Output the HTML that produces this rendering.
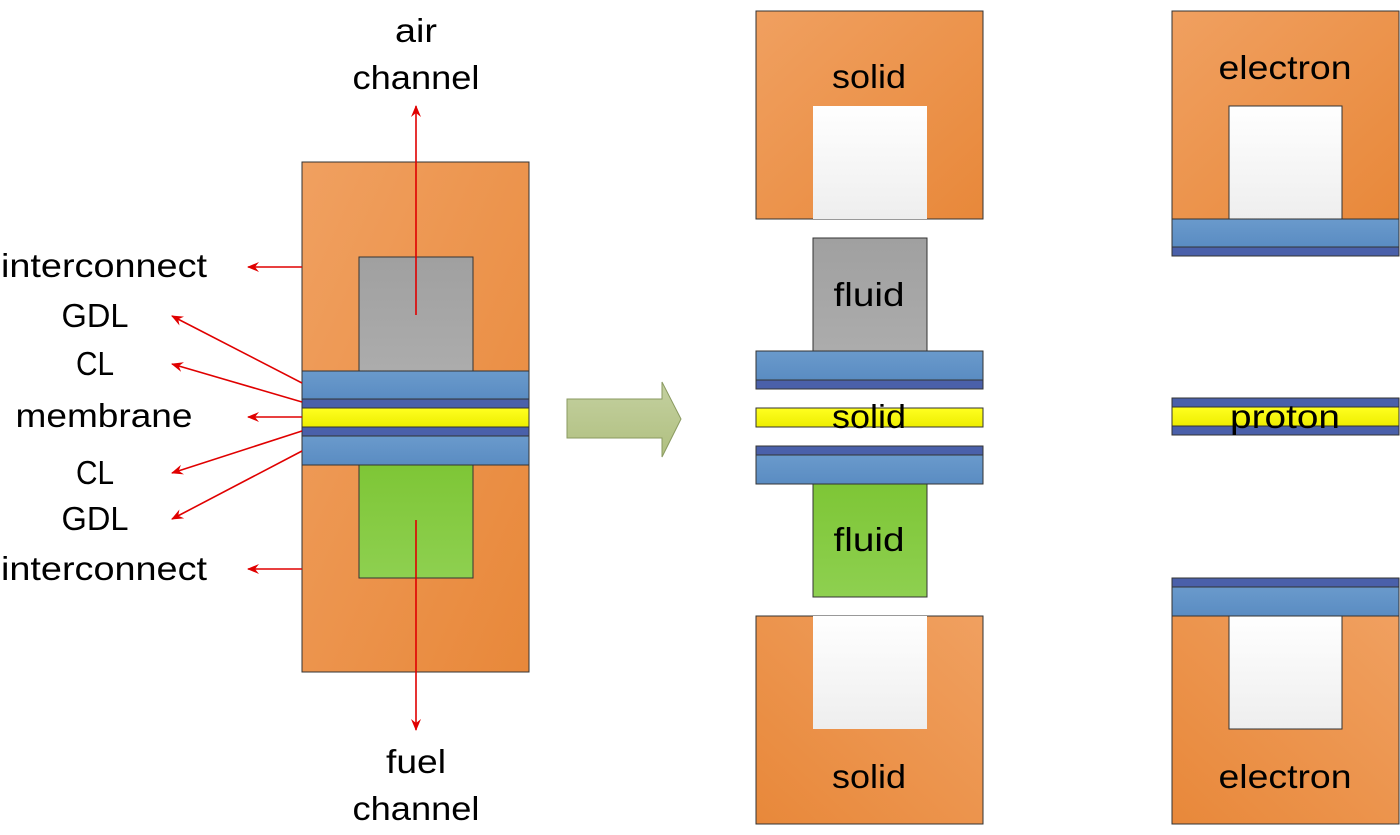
<!DOCTYPE html>
<html><head><meta charset="utf-8"><style>
html,body{margin:0;padding:0;background:#fff;}
body{width:1400px;height:835px;position:relative;overflow:hidden;font-family:"Liberation Sans",sans-serif;}
</style></head><body>
<svg width="1400" height="835" viewBox="0 0 1400 835" xmlns="http://www.w3.org/2000/svg" style="position:absolute;left:0;top:0">
<defs>
<linearGradient id="or" x1="0" y1="0" x2="1" y2="1"><stop offset="0" stop-color="#F0A060"/><stop offset="1" stop-color="#E8883A"/></linearGradient>
<linearGradient id="or2" x1="0" y1="1" x2="1" y2="0"><stop offset="0" stop-color="#E8883A"/><stop offset="1" stop-color="#F0A060"/></linearGradient>
<linearGradient id="gr" x1="0" y1="0" x2="0" y2="1"><stop offset="0" stop-color="#A0A0A0"/><stop offset="1" stop-color="#ACACAC"/></linearGradient>
<linearGradient id="gn" x1="0" y1="0" x2="0" y2="1"><stop offset="0" stop-color="#7EC636"/><stop offset="1" stop-color="#8ED050"/></linearGradient>
<linearGradient id="bl" x1="0" y1="0" x2="0" y2="1"><stop offset="0" stop-color="#6A9ACC"/><stop offset="1" stop-color="#5A8CC2"/></linearGradient>
<linearGradient id="ye" x1="0" y1="0" x2="0" y2="1"><stop offset="0" stop-color="#FFFF20"/><stop offset="1" stop-color="#EEEE00"/></linearGradient>
<linearGradient id="wh" x1="0" y1="0" x2="0" y2="1"><stop offset="0" stop-color="#FFFFFF"/><stop offset="1" stop-color="#EEEEEE"/></linearGradient>
<linearGradient id="ar" x1="0" y1="0" x2="0" y2="1"><stop offset="0" stop-color="#C4D0A0"/><stop offset="1" stop-color="#B0C080"/></linearGradient>
<marker id="ah" markerWidth="12" markerHeight="10" refX="11" refY="5" orient="auto" markerUnits="userSpaceOnUse"><path d="M0,0 L12,5 L0,10 L4,5 z" fill="#E00000"/></marker>
</defs>
<g stroke="#333" stroke-width="1">
<rect x="302" y="162" width="227" height="510" fill="url(#or)"/>
<rect x="359" y="257" width="114" height="114" fill="url(#gr)"/>
<rect x="359" y="465" width="114" height="113" fill="url(#gn)"/>
<rect x="302" y="371" width="227" height="28" fill="url(#bl)"/>
<rect x="302" y="399" width="227" height="9" fill="#4A60AA"/>
<rect x="302" y="408" width="227" height="19" fill="url(#ye)"/>
<rect x="302" y="427" width="227" height="9" fill="#4A60AA"/>
<rect x="302" y="436" width="227" height="29" fill="url(#bl)"/>
<rect x="756" y="11" width="227" height="208" fill="url(#or)"/>
<rect x="813" y="106" width="114" height="113" fill="url(#wh)" stroke="none"/>
<rect x="813" y="238" width="114" height="113" fill="url(#gr)"/>
<rect x="756" y="351" width="227" height="29" fill="url(#bl)"/>
<rect x="756" y="380" width="227" height="9" fill="#4A60AA"/>
<rect x="756" y="408" width="227" height="19" fill="url(#ye)"/>
<rect x="756" y="446" width="227" height="9" fill="#4A60AA"/>
<rect x="756" y="455" width="227" height="29" fill="url(#bl)"/>
<rect x="813" y="484" width="114" height="113" fill="url(#gn)"/>
<rect x="756" y="616" width="227" height="208" fill="url(#or2)"/>
<rect x="813" y="616" width="114" height="113" fill="url(#wh)" stroke="none"/>
<rect x="1172" y="11" width="227" height="208" fill="url(#or)"/>
<rect x="1229" y="106" width="113" height="113" fill="url(#wh)"/>
<rect x="1172" y="219" width="227" height="28" fill="url(#bl)"/>
<rect x="1172" y="247" width="227" height="9" fill="#4A60AA"/>
<rect x="1172" y="398" width="227" height="9" fill="#4A60AA"/>
<rect x="1172" y="407" width="227" height="19" fill="url(#ye)"/>
<rect x="1172" y="426" width="227" height="9" fill="#4A60AA"/>
<rect x="1172" y="578" width="227" height="9" fill="#4A60AA"/>
<rect x="1172" y="587" width="227" height="29" fill="url(#bl)"/>
<rect x="1172" y="616" width="227" height="208" fill="url(#or2)"/>
<rect x="1229" y="616" width="113" height="113" fill="url(#wh)"/>
</g>
<path d="M567,399 L662,399 L662,382 L681,419 L662,457 L662,438 L567,438 Z" fill="url(#ar)" stroke="#8A9A60" stroke-width="1"/>
<g stroke="#E00000" stroke-width="1.6" fill="none" marker-end="url(#ah)">
<line x1="416" y1="315" x2="416" y2="106"/>
<line x1="416" y1="520" x2="416" y2="730"/>
<line x1="302" y1="267" x2="248" y2="267"/>
<line x1="302" y1="383" x2="172" y2="316"/>
<line x1="302" y1="402" x2="172" y2="364"/>
<line x1="302" y1="417" x2="248" y2="417"/>
<line x1="302" y1="431" x2="172" y2="473"/>
<line x1="302" y1="451" x2="172" y2="519"/>
<line x1="302" y1="569" x2="248" y2="569"/>
</g>
<g font-family="Liberation Sans, sans-serif" font-size="33" fill="#000" text-anchor="middle" lengthAdjust="spacingAndGlyphs">
<text x="416" y="42" textLength="42" lengthAdjust="spacingAndGlyphs">air</text>
<text x="416" y="89" textLength="127" lengthAdjust="spacingAndGlyphs">channel</text>
<text x="416" y="773" textLength="60" lengthAdjust="spacingAndGlyphs">fuel</text>
<text x="416" y="820" textLength="127" lengthAdjust="spacingAndGlyphs">channel</text>
<text x="104" y="277" textLength="206" lengthAdjust="spacingAndGlyphs">interconnect</text>
<text x="95" y="327" textLength="67" lengthAdjust="spacingAndGlyphs">GDL</text>
<text x="95" y="375" textLength="38" lengthAdjust="spacingAndGlyphs">CL</text>
<text x="104" y="427" textLength="177" lengthAdjust="spacingAndGlyphs">membrane</text>
<text x="95" y="484" textLength="38" lengthAdjust="spacingAndGlyphs">CL</text>
<text x="95" y="530" textLength="67" lengthAdjust="spacingAndGlyphs">GDL</text>
<text x="104" y="580" textLength="206" lengthAdjust="spacingAndGlyphs">interconnect</text>
<text x="869" y="88" textLength="74" lengthAdjust="spacingAndGlyphs">solid</text>
<text x="869" y="306" textLength="71" lengthAdjust="spacingAndGlyphs">fluid</text>
<text x="869" y="428" textLength="74" lengthAdjust="spacingAndGlyphs">solid</text>
<text x="869" y="551" textLength="71" lengthAdjust="spacingAndGlyphs">fluid</text>
<text x="869" y="788" textLength="74" lengthAdjust="spacingAndGlyphs">solid</text>
<text x="1285" y="79" textLength="133" lengthAdjust="spacingAndGlyphs">electron</text>
<text x="1285" y="428" textLength="110" lengthAdjust="spacingAndGlyphs">proton</text>
<text x="1285" y="788" textLength="133" lengthAdjust="spacingAndGlyphs">electron</text>
</g>
</svg>
</body></html>
